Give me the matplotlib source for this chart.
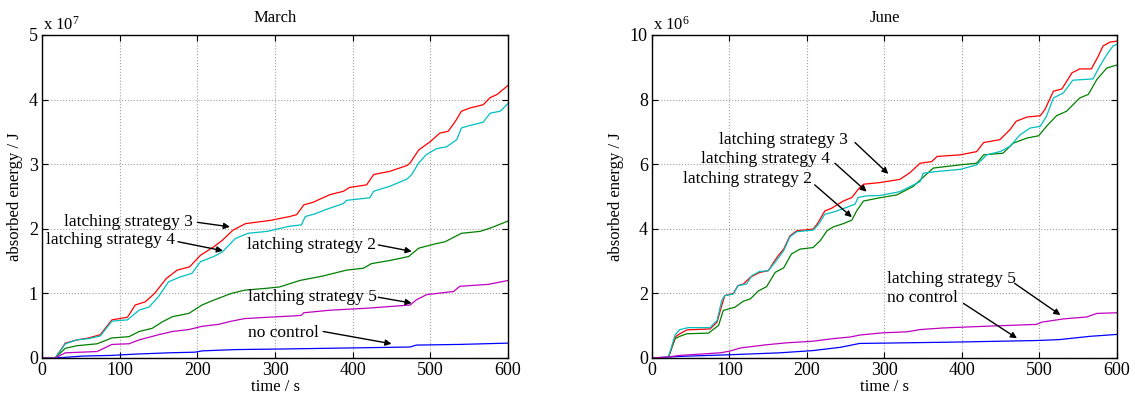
import numpy as np
import matplotlib
matplotlib.use('Agg')
import matplotlib.pyplot as plt

plt.rcParams['font.family'] = ['Liberation Serif', 'DejaVu Serif']
plt.rcParams['mathtext.fontset'] = 'custom'
plt.rcParams['mathtext.rm'] = 'Liberation Serif'
plt.rcParams['mathtext.it'] = 'Liberation Serif:italic'

# colours (old matlab colour order)
C_LS3 = '#ff0000'
C_LS4 = '#00bfbf'
C_LS2 = '#008000'
C_LS5 = '#bf00bf'
C_NC = '#0000ff'

# ---- March, values in units of 1e7 J ----
mar_t_ls3 = [0, 17, 30, 45, 60, 75, 90, 110, 120, 133, 145, 160, 174, 190, 204, 221, 232, 246, 262, 294,
             319, 328, 337, 349, 358, 371, 388, 396, 418, 427, 448, 470, 474, 485, 500, 512, 523, 532, 540,
             551, 568, 577, 586, 600]
mar_ls3 = [0, 0, 0.23, 0.28, 0.31, 0.36, 0.59, 0.63, 0.82, 0.87, 1.0, 1.23, 1.36, 1.41, 1.59, 1.72, 1.82,
           1.98, 2.08, 2.13, 2.19, 2.22, 2.37, 2.41, 2.46, 2.53, 2.58, 2.64, 2.68, 2.84, 2.89, 2.98, 3.02,
           3.22, 3.35, 3.48, 3.51, 3.66, 3.82, 3.87, 3.92, 4.03, 4.08, 4.22]
mar_t_ls4 = [0, 17, 30, 45, 60, 75, 90, 110, 125, 138, 150, 163, 177, 193, 204, 221, 232, 249, 265, 290,
             319, 334, 339, 351, 366, 388, 392, 422, 427, 448, 470, 476, 485, 495, 508, 521, 534, 540, 551,
             568, 577, 590, 600]
mar_ls4 = [0, 0, 0.22, 0.28, 0.30, 0.34, 0.57, 0.59, 0.74, 0.79, 0.95, 1.18, 1.25, 1.31, 1.49, 1.57, 1.64,
           1.85, 1.93, 1.96, 2.04, 2.06, 2.19, 2.23, 2.30, 2.39, 2.44, 2.48, 2.58, 2.66, 2.77, 2.84, 3.02,
           3.15, 3.24, 3.27, 3.38, 3.56, 3.60, 3.65, 3.79, 3.82, 3.94]
mar_t_ls2 = [0, 17, 30, 45, 71, 90, 112, 125, 142, 155, 168, 189, 206, 222, 244, 261, 290, 306, 332, 362,
             392, 414, 424, 448, 472, 485, 504, 519, 540, 564, 577, 600]
mar_ls2 = [0, 0, 0.15, 0.19, 0.22, 0.31, 0.33, 0.41, 0.46, 0.56, 0.64, 0.69, 0.82, 0.90, 1.0, 1.05, 1.08,
           1.10, 1.20, 1.27, 1.36, 1.39, 1.46, 1.51, 1.57, 1.70, 1.76, 1.80, 1.93, 1.96, 2.01, 2.12]
mar_t_ls5 = [0, 17, 30, 71, 90, 112, 125, 150, 168, 189, 206, 227, 244, 261, 290, 322, 334, 337, 371, 418,
             474, 482, 495, 530, 538, 575, 600]
mar_ls5 = [0, 0, 0.08, 0.10, 0.21, 0.22, 0.28, 0.36, 0.41, 0.44, 0.49, 0.52, 0.57, 0.61, 0.63, 0.65, 0.66,
           0.70, 0.74, 0.77, 0.82, 0.90, 0.98, 1.03, 1.11, 1.14, 1.20]
mar_t_nc = [0, 17, 53, 90, 120, 163, 197, 206, 249, 313, 422, 474, 482, 538, 600]
mar_nc = [0, 0, 0.03, 0.04, 0.06, 0.08, 0.09, 0.11, 0.13, 0.14, 0.16, 0.17, 0.20, 0.21, 0.23]

# ---- June, values in units of 1e6 J ----
jun_t_ls3 = [0, 21, 30, 34, 45, 75, 84, 90, 94, 105, 111, 118, 127, 139, 150, 157, 163, 170, 178, 187, 208,
             213, 223, 232, 247, 258, 266, 273, 294, 320, 333, 346, 361, 368, 398, 419, 428, 449, 462, 470,
             484, 501, 507, 518, 529, 542, 552, 567, 576, 582, 591, 600]
jun_ls3 = [0, 0, 0.65, 0.72, 0.87, 0.90, 1.11, 1.62, 1.93, 2.0, 2.24, 2.29, 2.5, 2.65, 2.70, 2.96, 3.17,
           3.37, 3.78, 3.94, 3.99, 4.14, 4.55, 4.64, 4.86, 4.97, 5.22, 5.38, 5.43, 5.53, 5.74, 6.03, 6.08,
           6.24, 6.29, 6.39, 6.67, 6.76, 7.07, 7.33, 7.46, 7.50, 7.69, 8.26, 8.33, 8.83, 8.95, 8.95, 9.35,
           9.66, 9.78, 9.81]
jun_t_ls4 = [0, 21, 30, 36, 47, 75, 84, 90, 94, 105, 111, 122, 129, 139, 150, 161, 170, 178, 187, 208, 215,
             223, 236, 253, 262, 266, 277, 294, 320, 335, 346, 350, 366, 398, 419, 432, 449, 462, 475, 488,
             501, 509, 518, 531, 543, 556, 569, 578, 587, 595, 600]
jun_ls4 = [0, 0, 0.72, 0.88, 0.94, 0.94, 1.16, 1.78, 1.93, 1.98, 2.24, 2.29, 2.55, 2.68, 2.70, 3.03, 3.32,
           3.75, 3.91, 3.96, 4.14, 4.45, 4.53, 4.68, 4.76, 4.97, 5.02, 5.03, 5.15, 5.33, 5.46, 5.72, 5.77,
           5.84, 5.98, 6.29, 6.39, 6.55, 6.91, 7.12, 7.17, 7.48, 8.05, 8.21, 8.60, 8.62, 8.64, 9.04, 9.40,
           9.66, 9.71]
jun_t_ls2 = [0, 21, 30, 36, 45, 73, 86, 92, 99, 107, 118, 127, 137, 148, 159, 170, 180, 191, 208, 217, 226,
             234, 247, 258, 264, 273, 294, 316, 337, 363, 398, 419, 428, 453, 466, 484, 499, 509, 522, 535,
             552, 563, 574, 587, 600]
jun_ls2 = [0, 0, 0.60, 0.67, 0.75, 0.77, 1.01, 1.47, 1.52, 1.57, 1.76, 1.83, 2.07, 2.21, 2.65, 2.79, 3.22,
           3.37, 3.42, 3.63, 3.94, 4.06, 4.16, 4.27, 4.55, 4.86, 4.96, 5.05, 5.31, 5.88, 5.98, 6.03, 6.29,
           6.34, 6.65, 6.81, 6.88, 7.17, 7.50, 7.64, 8.05, 8.16, 8.62, 8.98, 9.07]
jun_t_ls5 = [0, 21, 36, 88, 100, 114, 148, 174, 208, 234, 256, 268, 298, 329, 346, 376, 428, 496, 503, 531,
             561, 574, 600]
jun_ls5 = [0, 0.03, 0.08, 0.16, 0.21, 0.31, 0.41, 0.47, 0.52, 0.60, 0.65, 0.71, 0.78, 0.81, 0.88, 0.93,
           0.98, 1.04, 1.11, 1.21, 1.27, 1.38, 1.40]
jun_t_nc = [0, 36, 100, 165, 208, 243, 268, 298, 385, 496, 526, 565, 600]
jun_nc = [0, 0.05, 0.10, 0.16, 0.23, 0.33, 0.45, 0.46, 0.49, 0.54, 0.57, 0.67, 0.73]

# annotations: label, text pos, alignment, arrow tail, arrow head
mar_notes = [
    ('latching strategy 3', (194, 2.10), 'right', (200, 2.10), (242, 2.03)),
    ('latching strategy 4', (171, 1.82), 'right', (175, 1.80), (233, 1.66)),
    ('latching strategy 2', (264, 1.75), 'left', (433, 1.75), (476, 1.65)),
    ('latching strategy 5', (265, 0.94), 'left', (433, 0.94), (476, 0.85)),
    ('no control', (265, 0.39), 'left', (362, 0.41), (450, 0.22)),
]
jun_notes = [
    ('latching strategy 3', (253, 6.75), 'right', (262, 6.67), (305, 5.70)),
    ('latching strategy 4', (230, 6.15), 'right', (236, 6.03), (277, 5.15)),
    ('latching strategy 2', (207, 5.53), 'right', (210, 5.36), (258, 4.36)),
    ('latching strategy 5', (303, 2.44), 'left', (468, 2.31), (527, 1.33)),
    ('no control', (303, 1.85), 'left', (402, 1.69), (471, 0.61)),
]


def draw_panel(ax, series, notes, title, ymax, yticks, expo):
    for t, v, c in series:
        ax.plot(t, v, color=c, lw=0.9)
    ax.set_xlim(0, 600)
    ax.set_ylim(0, ymax)
    ax.set_xticks(range(0, 601, 100))
    ax.set_yticks(yticks)
    ax.grid(True, linestyle=':', color='#a0a0a0', lw=0.8)
    ax.tick_params(direction='in', top=True, right=True, length=4, labelsize=13, pad=3)
    for s in ax.spines.values():
        s.set_linewidth(1.0)
    ax.set_title(title, fontsize=12, pad=9)
    ax.set_xlabel('time / s', fontsize=12, labelpad=0)
    ax.set_ylabel('absorbed energy / J', fontsize=12, labelpad=4)
    ax.text(0.003, 1.005, r'x 10$^{%d}$' % expo, transform=ax.transAxes, fontsize=12,
            ha='left', va='bottom')
    for label, pos, ha, tail, head in notes:
        ax.text(pos[0], pos[1], label, fontsize=12.5, ha=ha, va='center')
        ax.annotate('', xy=head, xytext=tail,
                    arrowprops=dict(arrowstyle='-|>', color='k', lw=1.0,
                                    mutation_scale=9, shrinkA=0, shrinkB=0))


fig = plt.figure(figsize=(11.35, 3.94), dpi=100)
ax1 = fig.add_axes([0.037, 0.0914, 0.4106, 0.8198])
ax2 = fig.add_axes([0.5744, 0.0914, 0.4097, 0.8198])

draw_panel(ax1, [(mar_t_nc, mar_nc, C_NC), (mar_t_ls2, mar_ls2, C_LS2), (mar_t_ls3, mar_ls3, C_LS3),
                 (mar_t_ls4, mar_ls4, C_LS4), (mar_t_ls5, mar_ls5, C_LS5)],
           mar_notes, 'March', 5, range(0, 6), 7)
draw_panel(ax2, [(jun_t_nc, jun_nc, C_NC), (jun_t_ls2, jun_ls2, C_LS2), (jun_t_ls3, jun_ls3, C_LS3),
                 (jun_t_ls4, jun_ls4, C_LS4), (jun_t_ls5, jun_ls5, C_LS5)],
           jun_notes, 'June', 10, range(0, 11, 2), 6)

fig.savefig('out.png', dpi=100)
